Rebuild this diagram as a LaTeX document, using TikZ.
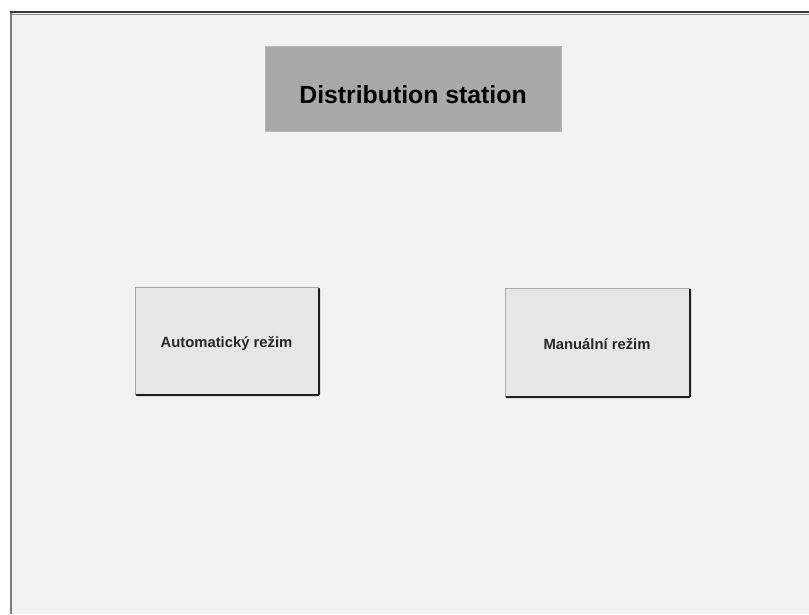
\documentclass[tikz,border=0pt]{standalone}
\usepackage{fontspec}
\setmainfont{Liberation Sans}
\definecolor{panelbg}{HTML}{F2F2F2}
\definecolor{titlefill}{HTML}{A9A9A9}
\definecolor{titleedge}{HTML}{B4B4B4}
\definecolor{btnfill}{HTML}{E6E6E6}
\definecolor{btnlight}{HTML}{A8A8A8}
\definecolor{btndark}{HTML}{1E1E1E}
\definecolor{frameleft}{HTML}{7C7C7C}
\definecolor{frametop}{HTML}{383838}
\tikzset{
  titlebox/.style={fill=titlefill, draw=titleedge, line width=0.8pt, inner sep=0pt,
    minimum width=296pt, minimum height=85pt,
    font=\fontsize{24.8}{25}\selectfont\bfseries, text height=30pt, text depth=0pt},
  button/.style={fill=btnfill, draw=btnlight, line width=1pt, inner sep=0pt,
    minimum width=183pt, minimum height=107pt,
    font=\fontsize{14.8}{15}\selectfont\bfseries, text=black!85, text height=14pt, text depth=0pt},
  btnshade/.style={draw=btndark, line width=2pt, line cap=round, rounded corners=1pt}
}
\begin{document}
\begin{tikzpicture}[x=1pt,y=-1pt]
  \useasboundingbox (0,0) rectangle (809,614);
  % page and panel
  \fill[white] (0,0) rectangle (809,614);
  \fill[panelbg] (11,12) rectangle (809,614);
  \draw[frameleft, line width=2.4pt] (11,12) -- (11,614);
  \draw[frametop, line width=2pt] (10,12) -- (809,12);
  \draw[black!45, line width=0.6pt] (12,13.8) -- (809,13.8);

  % header
  \node[titlebox] (title) at (413,88.5) {Distribution station};

  % mode buttons
  \node[button] (auto) at (226.5,340.5) {Automatický režim};
  \node[button, minimum width=184pt, minimum height=108pt] (manual) at (597,342) {Manuální režim};

  % raised-button shading on the lower and right edges
  % (shifts are in canvas units, where positive y points up)
  \foreach \b in {auto,manual} {
    \draw[btnshade] ([shift={(2pt,-0.5pt)}]\b.south west) -- ([shift={(0.5pt,-0.5pt)}]\b.south east) -- ([shift={(0.5pt,-2pt)}]\b.north east);
  }
\end{tikzpicture}
\end{document}
